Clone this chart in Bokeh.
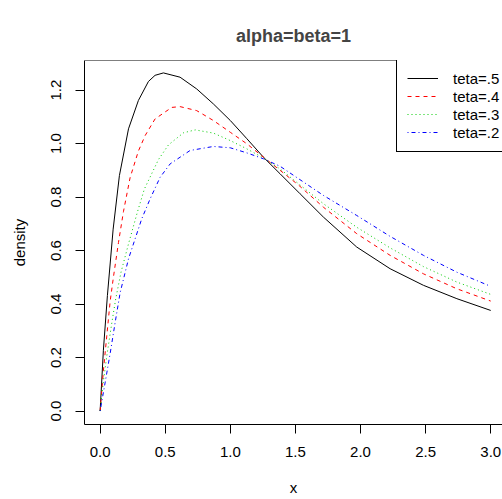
from bokeh.plotting import figure
from bokeh.models import Range1d, FixedTicker, Legend, LegendItem, NumeralTickFormatter, Span
from bokeh.embed import file_html
from bokeh.resources import INLINE

FONT = "Liberation Sans"

# teta = .5 (black, solid)
x_t5 = [0, 0.025, 0.056, 0.10, 0.148, 0.218, 0.294, 0.371, 0.422, 0.486, 0.614, 0.742, 0.870,
        1.0, 1.127, 1.254, 1.382, 1.536, 1.715, 1.971, 2.227, 2.483, 2.74, 3.0]
y_t5 = [0, 0.227, 0.432, 0.68, 0.880, 1.055, 1.161, 1.232, 1.255, 1.264, 1.248, 1.204, 1.148,
        1.086, 1.018, 0.949, 0.887, 0.812, 0.725, 0.613, 0.532, 0.470, 0.420, 0.376]

# teta = .4 (red, dashed)
x_t4 = [0, 0.025, 0.051, 0.077, 0.102, 0.141, 0.179, 0.230, 0.294, 0.346, 0.422, 0.55,
        0.614, 0.742, 0.870, 1.0, 1.127, 1.254, 1.382, 1.523, 1.715, 1.971, 2.227, 2.483, 2.74, 3.0]
y_t4 = [0, 0.15, 0.28, 0.41, 0.50, 0.63, 0.745, 0.872, 0.972, 1.03, 1.092, 1.135,
        1.138, 1.123, 1.086, 1.042, 0.999, 0.949, 0.900, 0.845, 0.762, 0.663, 0.582, 0.513, 0.457, 0.411]

# teta = .3 (green, dotted)
x_t3 = [0, 0.025, 0.051, 0.09, 0.12, 0.161, 0.218, 0.287, 0.34, 0.448, 0.525, 0.64, 0.73,
        0.87, 1.0, 1.127, 1.254, 1.382, 1.715, 1.971, 2.227, 2.483, 2.74, 3.0]
y_t3 = [0, 0.11, 0.205, 0.33, 0.42, 0.52, 0.625, 0.745, 0.83, 0.94, 0.995, 1.04, 1.051,
        1.039, 1.011, 0.980, 0.946, 0.905, 0.775, 0.687, 0.610, 0.540, 0.482, 0.436]

# teta = .2 (blue, dot-dash)
x_t2 = [0, 0.038, 0.077, 0.115, 0.154, 0.218, 0.269, 0.320, 0.384, 0.461, 0.538, 0.691,
        0.870, 1.0, 1.127, 1.254, 1.382, 1.715, 1.971, 2.227, 2.483, 2.74, 3.0]
y_t2 = [0, 0.105, 0.215, 0.33, 0.443, 0.569, 0.644, 0.719, 0.793, 0.874, 0.924, 0.974,
        0.989, 0.984, 0.965, 0.943, 0.915, 0.806, 0.731, 0.653, 0.582, 0.519, 0.466]

labels = ["teta=.5", "teta=.4", "teta=.3", "teta=.2"]
x_ticks = [0.0, 0.5, 1.0, 1.5, 2.0, 2.5, 3.0]
y_ticks = [0.0, 0.2, 0.4, 0.6, 0.8, 1.0, 1.2]

# layout constants
FRAME_L, FRAME_T, FRAME_W, FRAME_H = 84, 60, 418, 364
PX_PER_X = 130.2
x0 = -0.12
x1 = x0 + FRAME_W / PX_PER_X
y0, y1 = -0.0504, 1.3104

p = figure(width=502, height=499, output_backend="svg", toolbar_location=None,
           x_range=Range1d(x0, x1), y_range=Range1d(y0, y1),
           min_border_left=FRAME_L, min_border_right=0, min_border_top=FRAME_T,
           min_border_bottom=499 - FRAME_T - FRAME_H)
p.grid.visible = False
p.outline_line_color = None
p.background_fill_color = "white"
p.border_fill_color = "white"

p.title.text = "alpha=beta=1"
p.title.text_font = FONT
p.title.text_font_size = "18px"
p.title.text_font_style = "bold"
p.title.align = "center"
p.title.offset = 2
p.title.standoff = 30

for ax in (p.xaxis[0], p.yaxis[0]):
    ax.major_tick_out = 9
    ax.major_tick_in = 0
    ax.minor_tick_line_color = None
    ax.major_label_text_font = FONT
    ax.major_label_text_font_size = "15px"
    ax.major_label_text_color = "black"
    ax.axis_label_text_font = FONT
    ax.axis_label_text_font_size = "15px"
    ax.axis_label_text_font_style = "normal"
    ax.axis_label_text_color = "black"
    ax.axis_line_color = "black"
    ax.major_tick_line_color = "black"
    ax.formatter = NumeralTickFormatter(format="0.0")

p.xaxis[0].ticker = FixedTicker(ticks=x_ticks)
p.yaxis[0].ticker = FixedTicker(ticks=y_ticks)
p.xaxis[0].axis_label = "x"
p.xaxis[0].major_label_standoff = 13
p.xaxis[0].axis_label_standoff = 19
p.yaxis[0].axis_label = "density"
p.yaxis[0].major_label_orientation = "parallel"
p.yaxis[0].major_label_standoff = 14
p.yaxis[0].axis_label_standoff = 21

# top edge of the plot box
p.add_layout(Span(location=y1, dimension="width", line_color="black", line_width=1))

r5 = p.line(x_t5, y_t5, line_color="black", line_width=1)
r4 = p.line(x_t4, y_t4, line_color="#FF0000", line_width=1, line_dash="4 4")
r3 = p.line(x_t3, y_t3, line_color="#00CD00", line_width=1, line_dash="1 3")
r2 = p.line(x_t2, y_t2, line_color="#0000FF", line_width=1, line_dash="1 3 4 3")

legend = Legend(items=[LegendItem(label=labels[0], renderers=[r5]),
                       LegendItem(label=labels[1], renderers=[r4]),
                       LegendItem(label=labels[2], renderers=[r3]),
                       LegendItem(label=labels[3], renderers=[r2])],
                location=(312, 272), orientation="vertical",
                border_line_color="black", border_line_width=1, border_line_alpha=1,
                background_fill_color="white", background_fill_alpha=1,
                padding=10, spacing=0, margin=0,
                glyph_width=31, glyph_height=18, label_height=18, label_width=70,
                label_standoff=15, label_text_font=FONT, label_text_font_size="15px",
                label_text_color="black")
p.add_layout(legend, "center")

open("out.html", "w").write(file_html(p, INLINE))
